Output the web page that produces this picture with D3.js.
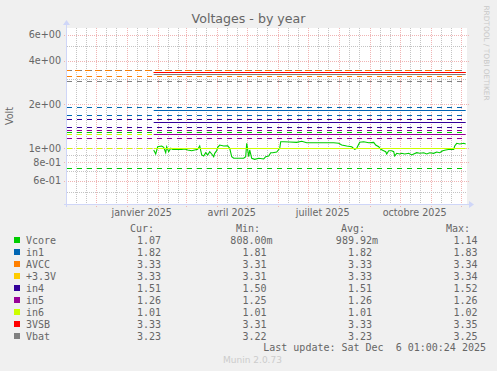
<!DOCTYPE html>
<html>
<head>
<meta charset="utf-8">
<script src="https://cdn.jsdelivr.net/npm/d3@7"></script>
<style>
body { margin: 0; background: #f0f0f0; }
text { font-family: "DejaVu Sans", sans-serif; fill: #666666; }
.mono { font-family: "DejaVu Sans Mono", monospace; font-size: 10px; }
</style>
</head>
<body>
<svg id="chart" width="497" height="371"></svg>
<script>
let fields = ["Vcore", "in1", "AVCC", "+3.3V", "in4", "in5", "in6", "3VSB", "Vbat"]
let colours = ["#00cc00", "#0066b3", "#ff8000", "#ffcc00", "#330099", "#990099", "#ccff00", "#ff0000", "#808080"]

let curValues = [1.07, 1.82, 3.33, 3.33, 1.51, 1.26, 1.01, 3.33, 3.23]
let minValues = [0.808, 1.81, 3.31, 3.31, 1.50, 1.25, 1.01, 3.31, 3.22]
let avgValues = [0.98992, 1.82, 3.33, 3.33, 1.51, 1.26, 1.01, 3.33, 3.23]
let maxValues = [1.14, 1.83, 3.34, 3.34, 1.52, 1.26, 1.02, 3.35, 3.25]

// the flat series only have data from late january on
let flatStart = "2025-01-28"
let flatEnd = "2025-12-06"

let vcoreDates = [
  "2025-01-28","2025-01-30","2025-02-01","2025-02-05","2025-02-07","2025-02-09","2025-02-10","2025-02-12",
  "2025-02-14","2025-02-16","2025-02-20","2025-02-25","2025-02-28","2025-03-03","2025-03-07","2025-03-10",
  "2025-03-13","2025-03-15","2025-03-17","2025-03-19","2025-03-21","2025-03-23","2025-03-25","2025-03-27",
  "2025-03-29","2025-03-30","2025-04-01","2025-04-02","2025-04-04","2025-04-08","2025-04-12","2025-04-14",
  "2025-04-16","2025-04-18","2025-04-23","2025-04-28","2025-04-30","2025-05-01","2025-05-03","2025-05-04",
  "2025-05-06","2025-05-09","2025-05-13","2025-05-18","2025-05-20","2025-05-23","2025-05-25","2025-05-27",
  "2025-05-31","2025-06-03","2025-06-04","2025-06-07","2025-06-13","2025-06-20","2025-06-25","2025-06-30",
  "2025-07-07","2025-07-13","2025-07-20","2025-07-27","2025-08-01","2025-08-04","2025-08-09","2025-08-14",
  "2025-08-17","2025-08-19","2025-08-22","2025-08-26","2025-08-31","2025-09-05","2025-09-07","2025-09-10",
  "2025-09-12","2025-09-15","2025-09-17","2025-09-18","2025-09-20","2025-09-23","2025-09-25","2025-09-26",
  "2025-09-28","2025-10-01","2025-10-03","2025-10-06","2025-10-10","2025-10-13","2025-10-15","2025-10-18",
  "2025-10-21","2025-10-25","2025-10-28","2025-10-31","2025-11-04","2025-11-07","2025-11-10","2025-11-13",
  "2025-11-16","2025-11-20","2025-11-24","2025-11-25","2025-11-27","2025-11-30","2025-12-04","2025-12-06"
]
let vcoreValues = [
  0.974, 0.914, 1.025, 1.037, 1.016, 0.933, 1.025, 0.948,
  1.000, 0.984, 0.984, 0.984, 0.989, 0.974, 0.963, 0.974,
  0.984, 1.037, 0.900, 0.885, 0.933, 0.900, 0.948, 0.914,
  0.876, 0.924, 0.963, 1.016, 1.053, 1.037, 1.042, 1.000,
  0.876, 0.854, 0.854, 0.854, 0.876, 1.082, 0.876, 0.974,
  0.854, 0.840, 0.854, 0.845, 0.876, 0.885, 0.933, 0.933,
  0.943, 1.000, 1.110, 1.110, 1.105, 1.099, 1.117, 1.092,
  1.092, 1.092, 1.092, 1.092, 1.082, 1.053, 1.037, 1.025,
  0.984, 1.000, 1.099, 1.110, 1.092, 1.099, 1.053, 1.025,
  0.984, 0.963, 0.948, 0.914, 0.963, 0.963, 0.948, 0.885,
  0.924, 0.914, 0.924, 0.914, 0.924, 0.900, 0.914, 0.933,
  0.924, 0.933, 0.914, 0.933, 0.924, 0.943, 0.933, 0.963,
  0.974, 0.984, 0.984, 1.037, 1.082, 1.070, 1.082, 1.070
]

// warning limits (dashed)
let limitFields = ["Vbat", "AVCC", "AVCC", "Vbat", "in1", "in1", "in4", "in4", "in5", "Vcore", "in6", "in5", "in6", "Vcore"]
let limitValues = [3.465, 3.465, 3.12, 2.89, 1.91, 1.69, 1.58, 1.406, 1.335, 1.29, 1.26, 1.17, 1.0, 0.729]

let yTicks = [0.6, 0.8, 1, 2, 4, 6]
let yTickLabels = ["6e-01", "8e-01", "1e+00", "2e+00", "4e+00", "6e+00"]
let yMinorTicks = [0.5, 0.7, 0.9, 3, 5]
let xLabelDates = ["2025-01-01", "2025-04-01", "2025-07-01", "2025-10-01"]
let xLabels = ["janvier 2025", "avril 2025", "juillet 2025", "octobre 2025"]

let parseDay = d3.timeParse("%Y-%m-%d")
let svg = d3.select("#chart")

let x = d3.scaleTime()
    .domain([new Date(2024, 10, 2, 7), new Date(2025, 11, 7, 7)])
    .range([67, 467])
let y = d3.scaleLog()
    .domain([0.415, 6.684])
    .range([204, 28])

let [plotLeft, plotRight] = x.range()
let [plotBottom, plotTop] = y.range()
let colourOf = (f) => colours[fields.indexOf(f)]
let crisp = (v) => Math.round(v) + 0.5

svg.append("rect")
    .attr("x", plotLeft).attr("y", plotTop)
    .attr("width", plotRight - plotLeft).attr("height", plotBottom - plotTop)
    .attr("fill", "#ffffff")

// vertical grid
let minorDays = d3.timeDay.every(10).range(x.domain()[0], x.domain()[1]).filter(d => d.getDate() !== 31)
let months = d3.timeMonth.range(x.domain()[0], x.domain()[1])

svg.append("g").selectAll("line")
    .data(minorDays)
    .enter()
    .append("line")
    .attr("x1", d => crisp(x(d))).attr("x2", d => crisp(x(d)))
    .attr("y1", plotTop).attr("y2", plotBottom + 2)
    .attr("stroke", "#c4c4c4")
    .attr("stroke-dasharray", "1,1")

svg.append("g").selectAll("line")
    .data(months)
    .enter()
    .append("line")
    .attr("x1", d => crisp(x(d))).attr("x2", d => crisp(x(d)))
    .attr("y1", plotTop).attr("y2", plotBottom + 3)
    .attr("stroke", "#f0b4b4")
    .attr("stroke-dasharray", "1,1")

// horizontal grid
svg.append("g").selectAll("line")
    .data(yMinorTicks)
    .enter()
    .append("line")
    .attr("x1", plotLeft).attr("x2", plotRight)
    .attr("y1", d => crisp(y(d))).attr("y2", d => crisp(y(d)))
    .attr("stroke", "#c4c4c4")
    .attr("stroke-dasharray", "1,1")

svg.append("g").selectAll("line")
    .data(yTicks)
    .enter()
    .append("line")
    .attr("x1", plotLeft - 3).attr("x2", plotRight + 3)
    .attr("y1", d => crisp(y(d))).attr("y2", d => crisp(y(d)))
    .attr("stroke", "#f0b4b4")
    .attr("stroke-dasharray", "1,1")

// dashed limits
svg.append("g").selectAll("line")
    .data(limitValues)
    .enter()
    .append("line")
    .attr("x1", plotLeft).attr("x2", plotRight - 5)
    .attr("y1", d => crisp(y(d))).attr("y2", d => crisp(y(d)))
    .attr("stroke", (d, i) => colourOf(limitFields[i]))
    .attr("stroke-dasharray", "5,5")
    .attr("stroke-dashoffset", (d, i) => limitFields[i] === "AVCC" && d > 3.4 ? 2 : 0)

// series lines
let line = d3.line()
    .x(d => x(d[0]))
    .y(d => y(d[1]))
let flatLine = d3.line()
    .x(d => x(d[0]))
    .y(d => crisp(y(d[1])))

let series = fields.map((f, i) => {
    if (f === "Vcore") {
        return vcoreDates.map((d, j) => [parseDay(d), vcoreValues[j]])
    }
    return [[parseDay(flatStart), curValues[i]], [parseDay(flatEnd), curValues[i]]]
})

svg.append("g").selectAll("path")
    .data(series)
    .enter()
    .append("path")
    .attr("d", (d, i) => i === 0 ? line(d) : flatLine(d))
    .attr("fill", "none")
    .attr("stroke", (d, i) => colours[i])
    .attr("stroke-width", (d, i) => i === 0 ? 1.1 : 1)

// axes
let axisColour = "#cfd6f8"
svg.append("line")
    .attr("x1", plotLeft - 3).attr("x2", plotRight + 3)
    .attr("y1", plotBottom + 0.5).attr("y2", plotBottom + 0.5)
    .attr("stroke", axisColour)
svg.append("line")
    .attr("x1", plotLeft - 0.5).attr("x2", plotLeft - 0.5)
    .attr("y1", plotBottom + 3).attr("y2", plotTop - 4)
    .attr("stroke", axisColour)
svg.append("path")
    .attr("d", `M${plotRight + 2},${plotBottom - 3}L${plotRight + 7},${plotBottom + 0.5}L${plotRight + 2},${plotBottom + 4}Z`)
    .attr("fill", axisColour)
svg.append("path")
    .attr("d", `M${plotLeft - 4},${plotTop - 3}L${plotLeft - 0.5},${plotTop - 8}L${plotLeft + 3},${plotTop - 3}Z`)
    .attr("fill", axisColour)

// tick labels
svg.append("g").selectAll("text")
    .data(yTicks)
    .enter()
    .append("text")
    .attr("x", 61)
    .attr("y", d => y(d))
    .attr("dy", "0.36em")
    .attr("text-anchor", "end")
    .style("font-size", "9.6px")
    .text((d, i) => yTickLabels[i])

svg.append("g").selectAll("text")
    .data(xLabelDates)
    .enter()
    .append("text")
    .attr("x", d => x(d3.timeDay.offset(parseDay(d), 15)))
    .attr("y", 215.5)
    .attr("text-anchor", "middle")
    .style("font-size", "9.6px")
    .text((d, i) => xLabels[i])

// titles
svg.append("text")
    .attr("x", 248.5).attr("y", 23)
    .attr("text-anchor", "middle")
    .style("font-size", "12.6px")
    .text("Voltages - by year")

svg.append("text")
    .attr("transform", `translate(13, ${(plotTop + plotBottom) / 2}) rotate(-90)`)
    .attr("text-anchor", "middle")
    .style("font-size", "9.6px")
    .text("Volt")

svg.append("text")
    .attr("transform", "translate(484, 53) rotate(90)")
    .attr("text-anchor", "middle")
    .style("font-size", "7.4px")
    .style("fill", "#c8c8c8")
    .text("RRDTOOL / TOBI OETIKER")

// legend
let colRight = [161, 266.5, 372, 477.5]
let headRight = [154, 260, 365, 470]
let heads = ["Cur:", "Min:", "Avg:", "Max:"]
let columns = [curValues, minValues, avgValues, maxValues]
let rowY = (i) => 243.5 + i * 12

svg.append("g").selectAll("text")
    .data(heads)
    .enter()
    .append("text")
    .attr("class", "mono")
    .attr("x", (d, i) => headRight[i])
    .attr("y", 231.5)
    .attr("text-anchor", "end")
    .text(d => d)

let legend = svg.append("g")
legend.selectAll("rect")
    .data(fields)
    .enter()
    .append("rect")
    .attr("x", 14).attr("y", (d, i) => rowY(i) - 6.5)
    .attr("width", 6).attr("height", 6)
    .attr("fill", (d, i) => colours[i])

legend.selectAll("text.name")
    .data(fields)
    .enter()
    .append("text")
    .attr("class", "mono name")
    .attr("x", 26)
    .attr("y", (d, i) => rowY(i))
    .text(d => d)

let fmt = (v) => v < 1 ? (v * 1000).toFixed(2) + "m" : v.toFixed(2)

columns.forEach((col, c) => {
    legend.selectAll("text.c" + c)
        .data(col)
        .enter()
        .append("text")
        .attr("class", "mono c" + c)
        .attr("x", d => colRight[c] + (d < 1 ? 6.02 : 0))
        .attr("y", (d, i) => rowY(i))
        .attr("text-anchor", "end")
        .text(fmt)
})

svg.append("text")
    .attr("class", "mono")
    .attr("x", 486).attr("y", 351)
    .attr("text-anchor", "end")
    .style("white-space", "pre")
    .text("Last update: Sat Dec  6 01:00:24 2025")

svg.append("text")
    .attr("x", 252.5).attr("y", 362.5)
    .attr("text-anchor", "middle")
    .style("font-size", "9px")
    .style("fill", "#cccccc")
    .text("Munin 2.0.73")
</script>
</body>
</html>
